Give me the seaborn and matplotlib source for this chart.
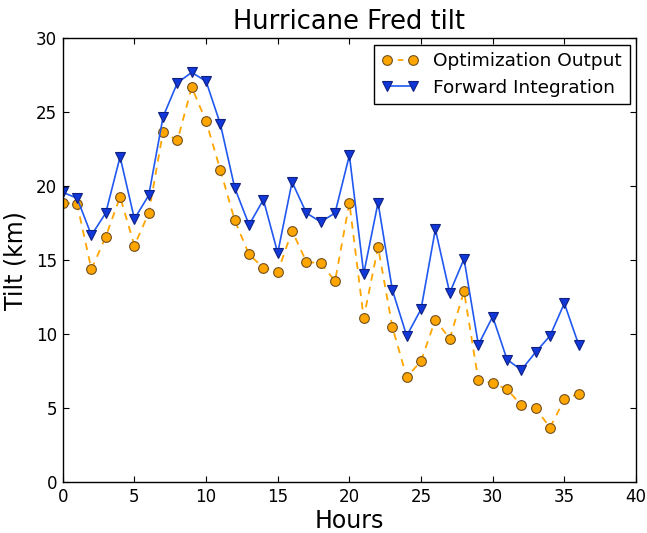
import matplotlib
matplotlib.use("Agg")
import matplotlib.pyplot as plt
import seaborn as sns
import pandas as pd

hours = list(range(37))
optimization_output = [18.9, 18.8, 14.4, 16.6, 19.3, 16.0, 18.2, 23.7, 23.1, 26.7,
                       24.4, 21.1, 17.7, 15.4, 14.5, 14.2, 17.0, 14.9, 14.8, 13.6,
                       18.9, 11.1, 15.9, 10.5, 7.1, 8.2, 11.0, 9.7, 12.9, 6.9,
                       6.7, 6.3, 5.2, 5.0, 3.7, 5.6, 6.0]
forward_integration = [19.6, 19.2, 16.7, 18.2, 22.0, 17.8, 19.4, 24.7, 27.0, 27.7,
                       27.1, 24.2, 19.9, 17.4, 19.1, 15.5, 20.3, 18.2, 17.6, 18.2,
                       22.1, 14.1, 18.9, 13.0, 9.9, 11.7, 17.1, 12.8, 15.1, 9.3,
                       11.2, 8.3, 7.6, 8.8, 9.9, 12.1, 9.3]
x_ticks = [0, 5, 10, 15, 20, 25, 30, 35, 40]
y_ticks = [0, 5, 10, 15, 20, 25, 30]

df = pd.DataFrame({"Hours": hours,
                   "opt": optimization_output,
                   "fwd": forward_integration})

sns.set_style("white")
plt.rcParams["font.family"] = ["DejaVu Sans"]
plt.rcParams["text.color"] = "black"
plt.rcParams["axes.labelcolor"] = "black"
plt.rcParams["xtick.color"] = "black"
plt.rcParams["ytick.color"] = "black"

fig, ax = plt.subplots(figsize=(6.47, 5.33), dpi=100)
fig.subplots_adjust(left=0.097, right=0.983, top=0.928, bottom=0.095)

sns.lineplot(data=df, x="Hours", y="opt", ax=ax, color="orange",
             dashes=False, linewidth=1.3, marker="o", markersize=7,
             markerfacecolor="orange", markeredgecolor="#705020",
             markeredgewidth=0.8, label="Optimization Output")
ax.lines[-1].set_dashes((4, 3.5))
sns.lineplot(data=df, x="Hours", y="fwd", ax=ax, color="#2058f0",
             linewidth=1.2, marker="v", markersize=6.5,
             markerfacecolor="#1038d8", markeredgecolor="#102080",
             markeredgewidth=0.8, label="Forward Integration")

ax.set_xlim(0, 40)
ax.set_ylim(0, 30)
ax.set_xticks(x_ticks)
ax.set_yticks(y_ticks)
ax.tick_params(direction="in", bottom=True, left=True, top=True, right=True,
               length=4, width=0.8, labelsize=12, color="black", pad=4)
for s in ax.spines.values():
    s.set_color("black")
    s.set_linewidth(1.0)

ax.set_title("Hurricane Fred tilt", fontsize=18.5, pad=7)
ax.set_xlabel("Hours", fontsize=17, labelpad=2)
ax.set_ylabel("Tilt (km)", fontsize=17, labelpad=6)

leg = ax.legend(loc="upper right", fontsize=13.3, frameon=True, fancybox=False,
                edgecolor="black", framealpha=1, borderpad=0.4, numpoints=2,
                handlelength=2.0, handletextpad=0.8, labelspacing=0.45,
                borderaxespad=0.35)
leg.get_frame().set_linewidth(1.0)
leg_lines = leg.get_lines()
if leg_lines:
    leg_lines[0].set_dashes((3, 3))

fig.savefig("out.png", dpi=100)
